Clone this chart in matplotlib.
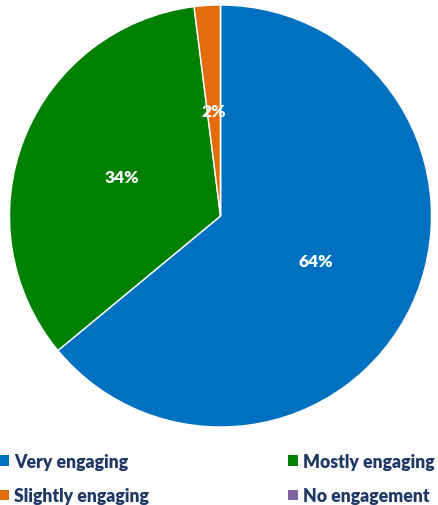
import matplotlib.pyplot as plt
from matplotlib.patches import Patch

# data
categories = ["Very engaging", "Mostly engaging", "Slightly engaging", "No engagement"]
values = [64, 34, 2, 0]
colors = ["#0070C0", "#008000", "#E36C0A", "#8064A2"]

W, H = 439, 506
fig = plt.figure(figsize=(W / 100, H / 100), dpi=100)

# pie axes: centre (220.5, 217) px from top, radius 211 px
cx, cy, r = 220.5, 217, 211
ax = fig.add_axes([(cx - r) / W, (H - cy - r) / H, 2 * r / W, 2 * r / H])


def pct(p):
    return "" if p < 0.5 else f"{p:.0f}%"


wedges, texts, autotexts = ax.pie(
    values, colors=colors, startangle=90, counterclock=False,
    autopct=pct, pctdistance=0.5, radius=1,
    wedgeprops=dict(edgecolor="white", linewidth=1),
    textprops=dict(color="white", fontweight="heavy", fontsize=12.5, family="Lato"),
)
ax.set_xlim(-1, 1)
ax.set_ylim(-1, 1)
ax.set_aspect("equal")

# legend: columns fill first, so order as Very, Slightly, Mostly, No
order = [0, 2, 1, 3]
handles = [Patch(facecolor=colors[i], label=categories[i]) for i in order]
leg = fig.legend(
    handles=handles, ncol=2, loc="upper left", bbox_to_anchor=(-0.002, 1 - 454 / H),
    frameon=False, handlelength=0.55, handleheight=0.55, handletextpad=0.3,
    columnspacing=7.9, labelspacing=0.97, borderaxespad=0, borderpad=0,
    prop=dict(family="Lato", weight="heavy", size=12.7),
)
for t in leg.get_texts():
    t.set_color("#203864")

fig.savefig("out.png", dpi=100)
